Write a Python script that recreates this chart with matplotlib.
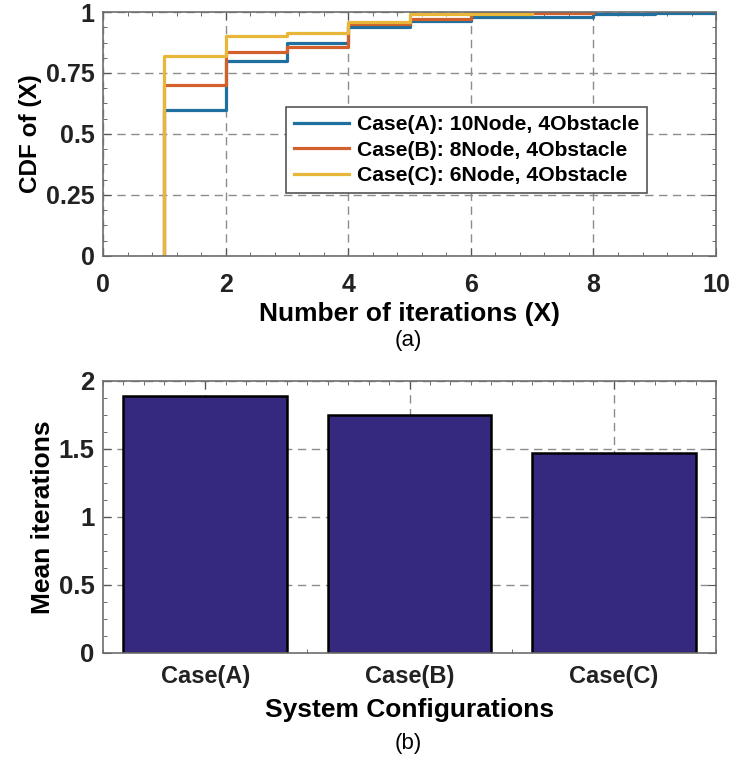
import matplotlib
matplotlib.use('Agg')
import matplotlib.pyplot as plt
from matplotlib.ticker import MultipleLocator

# CDF of iteration counts (stairs, first point repeated at zero)
case_a_x = [1, 1, 2, 3, 4, 5, 6, 8, 9, 10]
case_a_y = [0, 0.60, 0.80, 0.875, 0.94, 0.965, 0.98, 0.99, 0.995, 1.0]
case_b_x = [1, 1, 2, 3, 4, 5, 6, 8]
case_b_y = [0, 0.70, 0.835, 0.855, 0.95, 0.972, 0.995, 1.0]
case_c_x = [1, 1, 2, 3, 4, 5, 7]
case_c_y = [0, 0.82, 0.90, 0.915, 0.96, 0.993, 1.0]
legend_labels = ['Case(A): 10Node, 4Obstacle',
                 'Case(B): 8Node, 4Obstacle',
                 'Case(C): 6Node, 4Obstacle']

# mean iterations per configuration
configs = ['Case(A)', 'Case(B)', 'Case(C)']
mean_iters = [1.89, 1.75, 1.47]

line_colors = ['#1f6f9f', '#d2602a', '#e8b73a']
bar_color = '#34297f'
grid_kw = dict(color='#8c8c8c', linestyle=(0, (6, 4)), linewidth=1.0)
frame_color = '#6e6e6e'

plt.rcParams['font.family'] = ['Liberation Sans', 'DejaVu Sans']

fig = plt.figure(figsize=(7.29, 7.6), dpi=100)


def style_axes(ax):
    for sp in ax.spines.values():
        sp.set_color(frame_color)
        sp.set_linewidth(1.2)
    ax.tick_params(which='both', direction='in', top=True, right=True,
                   colors='#555555', labelcolor='#222222')
    ax.tick_params(which='major', length=6)
    ax.tick_params(which='minor', length=3)
    ax.set_axisbelow(True)


# ---- (a) CDF plot ----
ax1 = fig.add_axes([0.1413, 0.6632, 0.841, 0.321])
for xs, ys, col, lab in zip([case_a_x, case_b_x, case_c_x],
                            [case_a_y, case_b_y, case_c_y],
                            line_colors, legend_labels):
    ax1.step(xs, ys, where='post', color=col, linewidth=2.3, label=lab)
ax1.set_xlim(0, 10)
ax1.set_ylim(0, 1)
ax1.xaxis.set_major_locator(MultipleLocator(2))
ax1.xaxis.set_minor_locator(MultipleLocator(0.4))
ax1.yaxis.set_minor_locator(MultipleLocator(0.0625))
ax1.set_yticks([0, 0.25, 0.5, 0.75, 1])
ax1.set_yticklabels(['0', '0.25', '0.5', '0.75', '1'])
ax1.grid(True, which='major', **grid_kw)
style_axes(ax1)
for lbl in ax1.get_xticklabels() + ax1.get_yticklabels():
    lbl.set_fontsize(18)
    lbl.set_fontweight('bold')
ax1.tick_params(axis='x', pad=12)
ax1.tick_params(axis='y', pad=6)
ax1.set_xlabel('Number of iterations (X)', fontsize=19, fontweight='bold',
               labelpad=4)
ax1.set_ylabel('CDF of (X)', fontsize=17.5, fontweight='bold', labelpad=3)
leg = ax1.legend(loc='upper left', bbox_to_anchor=(0.2985, 0.611),
                 borderaxespad=0, fancybox=False, edgecolor='#555555',
                 framealpha=1, handlelength=2.6, handletextpad=0.35,
                 labelspacing=0.3, borderpad=0.4,
                 prop=dict(size=15.2, weight='bold'))
leg.get_frame().set_linewidth(1.2)
fig.text(0.5595, 1 - 340 / 760, '(a)', ha='center', va='center', fontsize=16)

# ---- (b) mean iterations bar chart ----
ax2 = fig.add_axes([0.1413, 0.1408, 0.841, 0.358])
xpos = list(range(1, len(configs) + 1))
ax2.bar(xpos, mean_iters, width=0.8, color=bar_color, edgecolor='black',
        linewidth=1.8, zorder=2)
ax2.set_xlim(0.5, 3.5)
ax2.set_ylim(0, 2)
ax2.set_xticks(xpos)
ax2.set_xticklabels(configs)
ax2.xaxis.set_minor_locator(MultipleLocator(0.1))
ax2.yaxis.set_minor_locator(MultipleLocator(0.125))
ax2.set_yticks([0, 0.5, 1, 1.5, 2])
ax2.set_yticklabels(['0', '0.5', '1', '1.5', '2'])
ax2.grid(True, which='major', zorder=0, **grid_kw)
style_axes(ax2)
for lbl in ax2.get_xticklabels():
    lbl.set_fontsize(17)
    lbl.set_fontweight('bold')
for lbl in ax2.get_yticklabels():
    lbl.set_fontsize(18.5)
    lbl.set_fontweight('bold')
ax2.tick_params(axis='x', pad=9)
ax2.tick_params(axis='y', pad=6)
ax2.set_xlabel('System Configurations', fontsize=19, fontweight='bold',
               labelpad=7)
ax2.set_ylabel('Mean iterations', fontsize=19, fontweight='bold', labelpad=3)
fig.text(0.5595, 1 - 743 / 760, '(b)', ha='center', va='center', fontsize=16)

fig.savefig('out.png', dpi=100)
